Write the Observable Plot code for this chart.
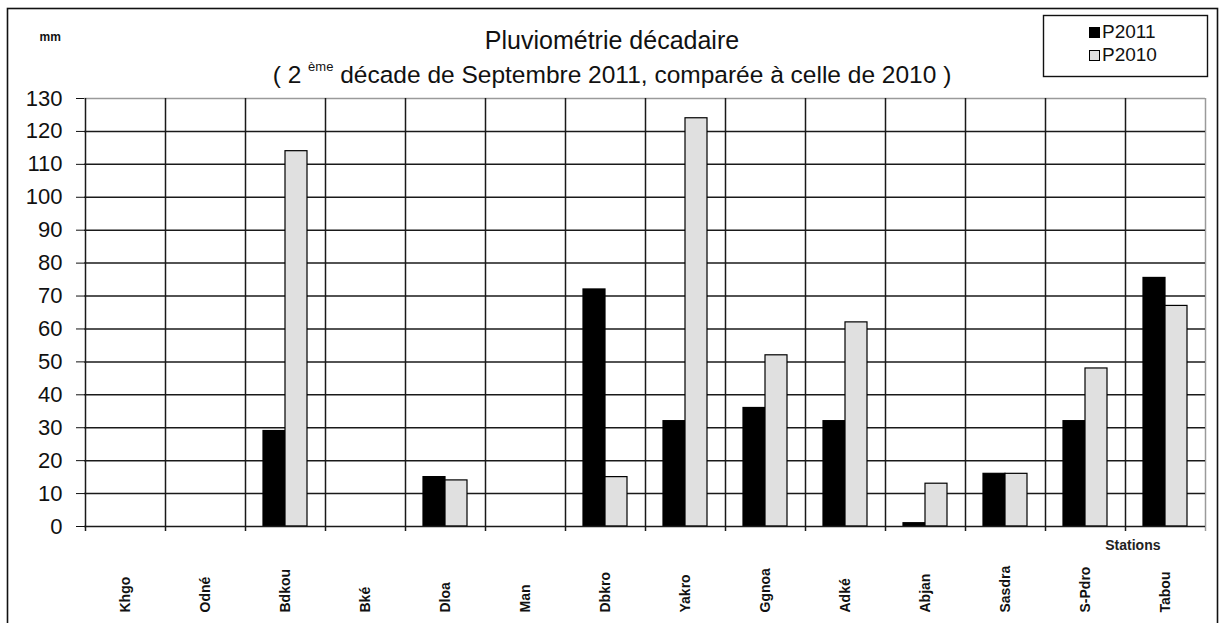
<!DOCTYPE html>
<html><head><meta charset="utf-8">
<script src="https://cdn.jsdelivr.net/npm/d3@7"></script>
<script src="https://cdn.jsdelivr.net/npm/@observablehq/plot@0.6"></script>
<style>html,body{margin:0;padding:0;background:#fff;} svg{display:block}</style>
</head><body><div id="chart"></div>
<script>
const stations = ["Khgo","Odné","Bdkou","Bké","Dloa","Man","Dbkro","Yakro","Ggnoa","Adké","Abjan","Sasdra","S-Pdro","Tabou"];
const seriesNames = ["P2011","P2010"];
const p2011 = [0,0,29,0,15,0,72,32,36,32,1,16,32,75.5];
const p2010 = [0,0,114,0,14,0,15,124,52,62,13,16,48,67];
const seriesColors = ["#000000","#e0e0e0"];
const yTicks = [0,10,20,30,40,50,60,70,80,90,100,110,120,130];
const titleText = "Pluviométrie décadaire";
const subtitleParts = ["( 2 ", "ème", " décade de Septembre 2011, comparée à celle de 2010 )"];
const yUnit = "mm";
const xLabel = "Stations";

const rows = stations.flatMap((s, i) => [
  {station: s, series: seriesNames[0], value: p2011[i]},
  {station: s, series: seriesNames[1], value: p2010[i]}
]).filter(d => d.value > 0);

const font = "'Liberation Sans', Arial, sans-serif";
const grid = "#1a1a1a";

const plot = Plot.plot({
  width: 1230, height: 623,
  marginLeft: 84, marginRight: 25, marginTop: 98, marginBottom: 97,
  x: {domain: stations, padding: 0, axis: null},
  y: {domain: [0, 130], axis: null},
  color: {domain: seriesNames, range: seriesColors},
  style: {fontFamily: font, background: "#fff", color: "#000", overflow: "visible"},
  marks: [
    Plot.ruleY([130], {stroke: "#9a9a9a", strokeWidth: 1.5}),
    Plot.ruleX([stations[stations.length - 1]], {x: d => d, dx: 40, y1: 130, y2: 0, insetBottom: -5, stroke: "#9a9a9a", strokeWidth: 1.5}),
    Plot.ruleY(yTicks.filter(t => t > 0 && t < 130), {stroke: grid, strokeWidth: 1.5}),
    Plot.ruleX(stations, {x: d => d, dx: -40, y1: 130, y2: 0, insetBottom: -5, stroke: grid, strokeWidth: 1.5}),
    Plot.barY(rows.filter(d => d.series === seriesNames[0]), {x: "station", y: "value", fill: "series", stroke: "#000", strokeWidth: 1.2, insetLeft: 18, insetRight: 40}),
    Plot.barY(rows.filter(d => d.series === seriesNames[1]), {x: "station", y: "value", fill: "series", stroke: "#000", strokeWidth: 1.2, insetLeft: 40, insetRight: 18}),
    Plot.ruleY([0], {stroke: grid, strokeWidth: 1.7}),
    Plot.axisY(yTicks, {tickSize: 8, tickPadding: 14, fontSize: 22, label: null, color: "#111"}),
    Plot.text(stations, {x: d => d, y: 0, text: d => d, dy: 86, rotate: -90, textAnchor: "start", lineAnchor: "middle", fontSize: 14, fontWeight: "bold", fill: "#111"}),
    Plot.text([xLabel], {text: d => d, frameAnchor: "bottom-right", dx: -45, dy: 23, textAnchor: "end", fontSize: 14, fontWeight: "bold", fill: "#222"}),
    Plot.text([yUnit], {text: d => d, frameAnchor: "top-left", dx: -45, dy: -66, textAnchor: "start", fontSize: 12, fontWeight: "bold", fill: "#111"})
  ]
});

const svg = d3.select(plot);
// outer chart-area border
svg.append("rect").attr("x", 7.5).attr("y", 8.5).attr("width", 1210).attr("height", 700)
  .attr("fill", "none").attr("stroke", "#111").attr("stroke-width", 1.6);

// title & subtitle
svg.append("text").attr("x", 612).attr("y", 42).attr("text-anchor", "middle").attr("dominant-baseline", "middle")
  .attr("font-family", font).attr("font-size", 25).attr("fill", "#111").text(titleText);
const sub = svg.append("text").attr("x", 612).attr("y", 77).attr("text-anchor", "middle").attr("dominant-baseline", "middle")
  .attr("font-family", font).attr("font-size", 24.5).attr("fill", "#111");
sub.append("tspan").text(subtitleParts[0]);
sub.append("tspan").attr("font-size", 13).attr("dy", -9).text(subtitleParts[1]);
sub.append("tspan").attr("dy", 9).text(subtitleParts[2]);

// legend
const lg = svg.append("g");
lg.append("rect").attr("x", 1043.5).attr("y", 15.5).attr("width", 164).attr("height", 61)
  .attr("fill", "#fff").attr("stroke", "#111").attr("stroke-width", 1.4);
seriesNames.forEach((name, i) => {
  lg.append("rect").attr("x", 1089.5).attr("y", 27.5 + i * 23).attr("width", 10).attr("height", 10)
    .attr("fill", seriesColors[i]).attr("stroke", "#000").attr("stroke-width", 1);
  lg.append("text").attr("x", 1102).attr("y", 32.5 + i * 23).attr("dominant-baseline", "middle")
    .attr("text-anchor", "start")
    .attr("font-family", font).attr("font-size", 19).attr("fill", "#111").text(name);
});

document.getElementById("chart").appendChild(plot);
</script>
</body></html>
